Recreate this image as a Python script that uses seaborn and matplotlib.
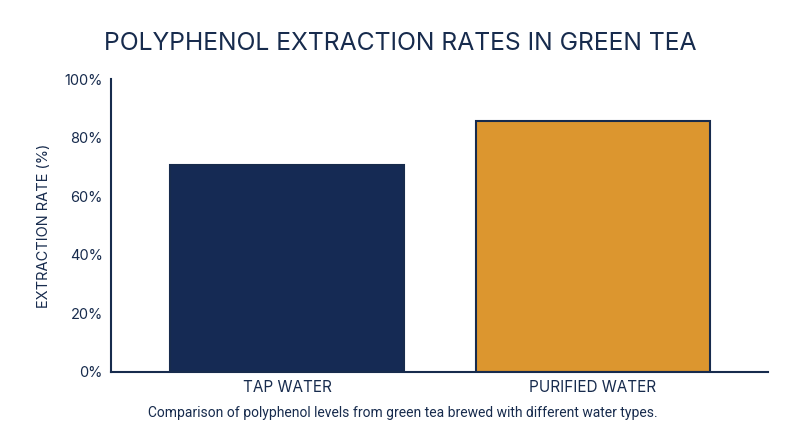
import matplotlib
matplotlib.use("Agg")
import pandas as pd
import seaborn as sns
from matplotlib import pyplot as plt
from matplotlib.ticker import PercentFormatter

categories = ["TAP WATER", "PURIFIED WATER"]
extraction_rate = [70.5, 85.8]
bar_colors = ["#152a54", "#dc962f"]

NAVY = "#172b4d"

sns.set_theme(style="white")
plt.rcParams["font.family"] = ["Inter", "DejaVu Sans"]

df = pd.DataFrame({"water": categories, "rate": extraction_rate})

fig = plt.figure(figsize=(8, 4.47), dpi=100)
ax = fig.add_axes([0.139, 0.168, 0.821, 0.655])

sns.barplot(data=df, x="water", y="rate", hue="water", palette=bar_colors,
            saturation=1, width=0.765, edgecolor=NAVY, linewidth=1.5,
            legend=False, ax=ax)

ax.set_ylim(0, 100)
ax.set_xlim(-0.575, 1.572)
ax.set_yticks(range(0, 101, 20))
ax.yaxis.set_major_formatter(PercentFormatter(decimals=0))
ax.tick_params(axis="both", colors=NAVY, labelsize=10.5, length=0, pad=6)
ax.tick_params(axis="x", labelsize=11, pad=6)
ax.set_xlabel("")
ax.set_ylabel("EXTRACTION RATE (%)", color=NAVY, fontsize=10.5, labelpad=10)

sns.despine(ax=ax)
for side in ["left", "bottom"]:
    ax.spines[side].set_color(NAVY)
    ax.spines[side].set_linewidth(1.5)

fig.text(0.5, 0.902, "POLYPHENOL EXTRACTION RATES IN GREEN TEA",
         ha="center", va="center", fontsize=17.8, color=NAVY)
fig.text(0.504, 0.077, "Comparison of polyphenol levels from green tea brewed with different water types.",
         ha="center", va="center", fontsize=10, color=NAVY, family=["Roboto", "DejaVu Sans"])

fig.savefig("out.png", dpi=100)
